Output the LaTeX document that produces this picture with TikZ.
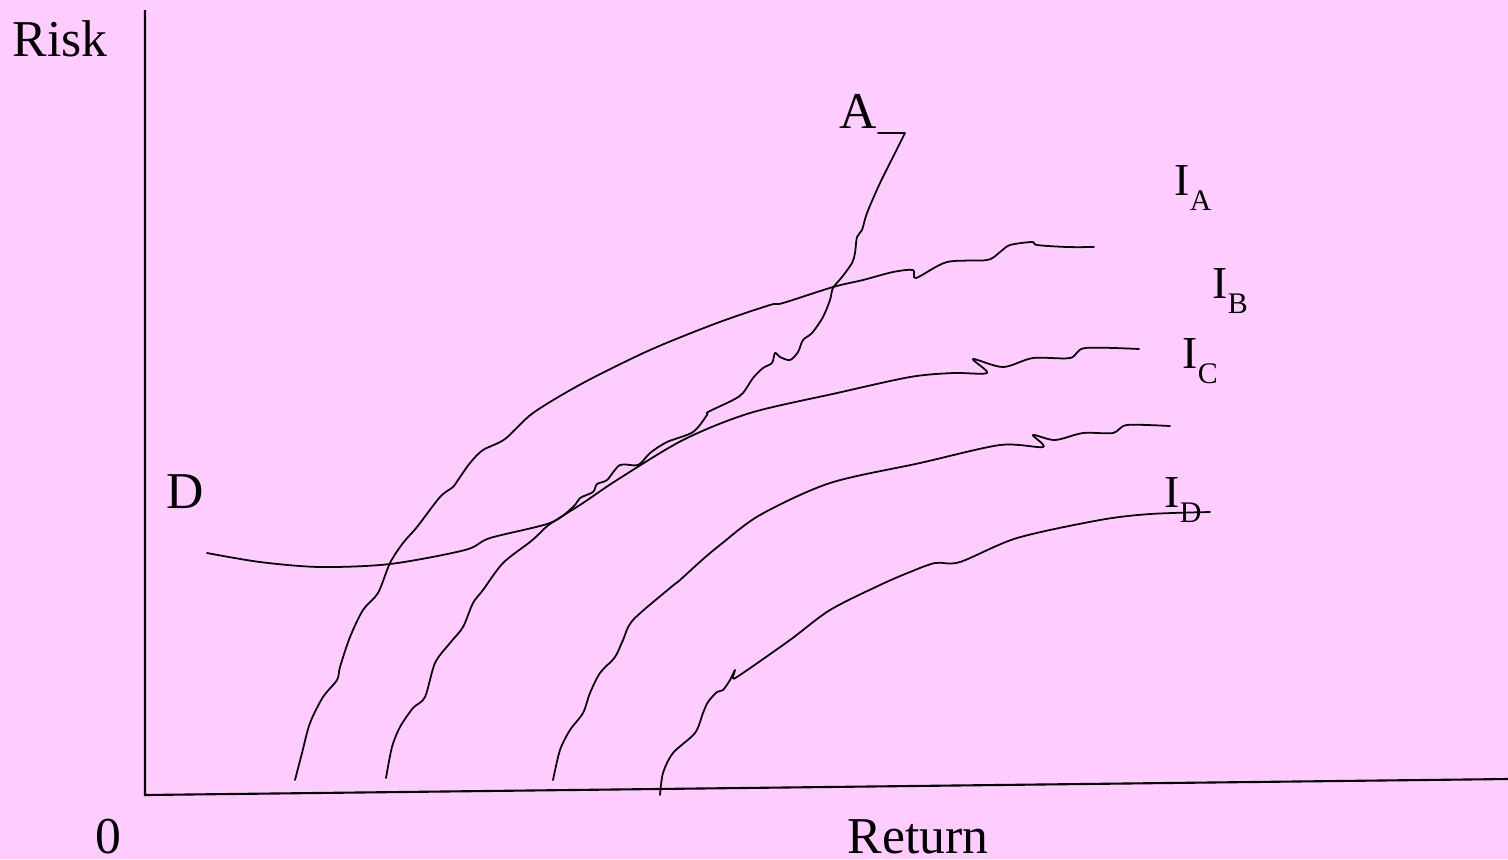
\documentclass[tikz,border=0pt]{standalone}
\usepackage{fontspec}
\setmainfont{Liberation Serif}
\definecolor{bgpink}{HTML}{FFCCFF}
\newcommand\isub[1]{I\raisebox{-4.3pt}{\fontsize{8.5}{10}\selectfont #1}}
\begin{document}
\begin{tikzpicture}[x=0.01cm,y=-0.01cm,
  axis/.style={line width=0.6pt,black},
  curve/.style={line width=0.5pt,black,line join=round,line cap=round},
  lbl/.style={inner sep=0pt,anchor=base,text depth=0pt,font=\fontsize{14.7}{17}\selectfont},
  ilbl/.style={inner sep=0pt,anchor=base west,font=\fontsize{13}{15}\selectfont}]
\fill[bgpink] (0,0) rectangle (1508,859);
\useasboundingbox (0,0) rectangle (1508,859);
% axes
\coordinate (ytop) at (145,10);
\coordinate (orig) at (145,795);
\coordinate (xend) at (1508,779);
\draw[axis] (ytop) -- (orig) -- (xend);
% labels
\node[lbl] (risk) at (60,56) {Risk};
\node[lbl] (zero) at (108,853) {0};
\node[lbl] (ret) at (918,853) {Return};
\node[lbl] (la) at (858,128) {A};
\node[lbl] (ld) at (185,508) {D};
\node[ilbl] (ia) at (1174,195) {\isub{A}};
\node[ilbl] (ib) at (1212,298) {\isub{B}};
\node[ilbl] (ic) at (1182,368) {\isub{C}};
\node[ilbl] (id) at (1164,507) {\isub{D}};
% frontier A - D
\draw[curve] (878,133) -- (905,133)
  plot[smooth,tension=0.5] coordinates {(905,133) (893,157) (880,183) (867,213) (862,230) (857,237) (855,253) (852,263) (842,277) (833,288) (830,300) (823,317) (812,333) (803,340) (798,352) (790,360) (780,357) (775,353) (772,363) (763,368) (753,378) (743,393) (733,400) (708,412) (707,415) (693,432) (667,442) (650,453) (638,465) (620,465) (607,480) (597,484) (593,492) (580,498) (573,507) (550,523) (490,538) (465,550) (390,564) (320,567) (260,562) (207,553)};
% I_A
\draw[curve] plot[smooth,tension=0.5] coordinates {(295,780) (302,753) (310,723) (323,697) (337,680) (340,667) (350,637) (363,610) (378,593) (390,563) (403,543) (417,527) (440,497) (453,487) (458,480) (470,463) (483,450) (505,439) (533,413) (583,383) (650,350) (717,323) (770,305) (783,303) (833,287) (863,280) (893,272) (913,270) (916,278) (947,262) (987,260) (1000,252) (1010,245) (1032,242) (1037,245) (1067,247) (1094,247)};
% I_B
\draw[curve] plot[smooth,tension=0.5] coordinates {(386,778) (392,747) (400,727) (413,708) (425,697) (435,663) (450,643) (463,627) (473,603) (483,590) (503,563) (530,542) (540,533) (550,524) (583,503) (617,480) (683,440) (750,413) (837,393) (910,377) (953,373) (987,373) (973,359) (1003,367) (1033,358) (1070,358) (1085,348) (1139,349)};
% I_C
\draw[curve] plot[smooth,tension=0.5] coordinates {(553,780) (560,750) (570,730) (583,713) (590,693) (600,673) (615,657) (623,640) (633,620) (670,588) (680,580) (702,560) (720,545) (760,515) (830,483) (920,463) (1000,445) (1043,447) (1033,435) (1055,440) (1083,433) (1113,433) (1127,425) (1170,426)};
% I_D
\draw[curve] plot[smooth,tension=0.5] coordinates {(660,795) (663,773) (673,753) (695,733) (703,713) (708,702) (717,692) (723,690) (730,680) (735,670) (733,678) (740,675) (790,640) (830,610) (880,585) (910,572) (935,563) (960,562) (1017,538) (1100,520) (1150,514) (1210,512)};
\end{tikzpicture}
\end{document}
